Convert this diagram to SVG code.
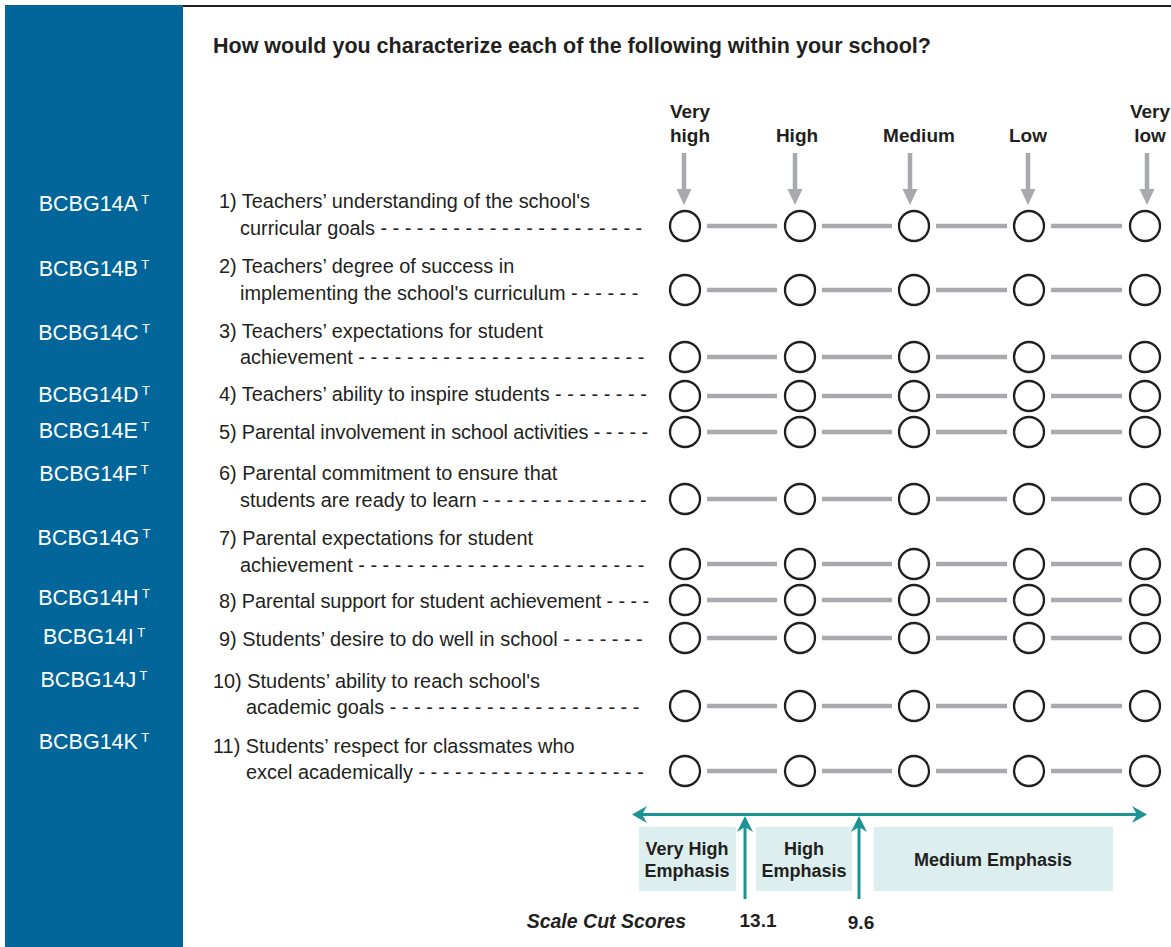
<svg xmlns="http://www.w3.org/2000/svg" width="1171" height="947" viewBox="0 0 1171 947">
<defs>
<style>
.it{font-family:"Liberation Sans",Arial,sans-serif;font-size:19.9px;fill:#231f20}
.code{font-family:"Liberation Sans",Arial,sans-serif;font-size:21.5px;fill:#ffffff}
.sup{font-size:13px}
.hd{font-family:"Liberation Sans",Arial,sans-serif;font-size:19px;font-weight:bold;fill:#231f20;text-anchor:middle}
.bx{font-family:"Liberation Sans",Arial,sans-serif;font-size:18px;font-weight:bold;fill:#231f20;text-anchor:middle}
.c{fill:#ffffff;stroke:#231f20;stroke-width:2.3}
.g{stroke:#a7a9ac;stroke-width:4.5}
.teal{stroke:#1c9393;stroke-width:3;fill:none}
.box{fill:#dceeee}
</style>
<g id="rowc">
<circle class="c" cx="685" cy="0" r="15"/>
<line class="g" x1="707" y1="0" x2="777" y2="0"/>
<circle class="c" cx="800" cy="0" r="15"/>
<line class="g" x1="822" y1="0" x2="892" y2="0"/>
<circle class="c" cx="914" cy="0" r="15"/>
<line class="g" x1="936" y1="0" x2="1007" y2="0"/>
<circle class="c" cx="1029" cy="0" r="15"/>
<line class="g" x1="1051" y1="0" x2="1122" y2="0"/>
<circle class="c" cx="1145" cy="0" r="15"/>
</g>
<g id="garrow">
<rect x="-2.25" y="153" width="4.5" height="38" fill="#a7a9ac"/>
<path d="M-7.5,189 L7.5,189 L0,205 Z" fill="#a7a9ac"/>
</g>
</defs>
<rect x="0" y="0" width="1171" height="947" fill="#ffffff"/>
<rect id="panel" x="5" y="5" width="178" height="942" fill="#02669a"/>
<line x1="183" y1="6" x2="1171" y2="6" stroke="#231f20" stroke-width="2"/>
<text id="title" x="213" y="53" style="font-family:'Liberation Sans',Arial,sans-serif;font-size:21.5px;font-weight:bold;fill:#231f20">How would you characterize each of the following within your school?</text>

<g id="header">
<text class="hd" x="690" y="118">Very</text>
<text class="hd" x="690" y="142">high</text>
<text class="hd" x="797" y="142">High</text>
<text class="hd" x="919" y="142">Medium</text>
<text class="hd" x="1028" y="142">Low</text>
<text class="hd" x="1150" y="118">Very</text>
<text class="hd" x="1150" y="142">low</text>
<use href="#garrow" x="684"/>
<use href="#garrow" x="795"/>
<use href="#garrow" x="910"/>
<use href="#garrow" x="1028"/>
<use href="#garrow" x="1147"/>
</g>

<g id="codes" text-anchor="middle">
<text class="code" x="94" y="211">BCBG14A<tspan class="sup" dy="-7">  T</tspan></text>
<text class="code" x="94" y="276">BCBG14B<tspan class="sup" dy="-7">  T</tspan></text>
<text class="code" x="94" y="340">BCBG14C<tspan class="sup" dy="-7">  T</tspan></text>
<text class="code" x="94" y="402">BCBG14D<tspan class="sup" dy="-7">  T</tspan></text>
<text class="code" x="94" y="438">BCBG14E<tspan class="sup" dy="-7">  T</tspan></text>
<text class="code" x="94" y="481">BCBG14F<tspan class="sup" dy="-7">  T</tspan></text>
<text class="code" x="94" y="545">BCBG14G<tspan class="sup" dy="-7">  T</tspan></text>
<text class="code" x="94" y="605">BCBG14H<tspan class="sup" dy="-7">  T</tspan></text>
<text class="code" x="94" y="644">BCBG14I<tspan class="sup" dy="-7">  T</tspan></text>
<text class="code" x="94" y="687">BCBG14J<tspan class="sup" dy="-7">  T</tspan></text>
<text class="code" x="94" y="749">BCBG14K<tspan class="sup" dy="-7">  T</tspan></text>
</g>

<g id="item1">
<text class="it" x="219" y="208">1) Teachers’ understanding of the school's</text>
<text class="it" x="240" y="235">curricular goals - - - - - - - - - - - - - - - - - - - - - -</text>
<use href="#rowc" y="226"/>
</g>
<g id="item2">
<text class="it" x="219" y="273">2) Teachers’ degree of success in</text>
<text class="it" x="240" y="300">implementing the school's curriculum - - - - - -</text>
<use href="#rowc" y="290"/>
</g>
<g id="item3">
<text class="it" x="219" y="338">3) Teachers’ expectations for student</text>
<text class="it" x="240" y="364">achievement - - - - - - - - - - - - - - - - - - - - - - - -</text>
<use href="#rowc" y="357"/>
</g>
<g id="item4">
<text class="it" x="219" y="401">4) Teachers’ ability to inspire students - - - - - - - -</text>
<use href="#rowc" y="396"/>
</g>
<g id="item5">
<text class="it" x="219" y="439" textLength="429" lengthAdjust="spacing">5) Parental involvement in school activities - - - - -</text>
<use href="#rowc" y="432"/>
</g>
<g id="item6">
<text class="it" x="219" y="480">6) Parental commitment to ensure that</text>
<text class="it" x="240" y="507">students are ready to learn - - - - - - - - - - - - - -</text>
<use href="#rowc" y="499"/>
</g>
<g id="item7">
<text class="it" x="219" y="545">7) Parental expectations for student</text>
<text class="it" x="240" y="572">achievement - - - - - - - - - - - - - - - - - - - - - - - -</text>
<use href="#rowc" y="564"/>
</g>
<g id="item8">
<text class="it" x="219" y="608" textLength="430" lengthAdjust="spacing">8) Parental support for student achievement - - - -</text>
<use href="#rowc" y="600"/>
</g>
<g id="item9">
<text class="it" x="219" y="646">9) Students’ desire to do well in school - - - - - - -</text>
<use href="#rowc" y="638"/>
</g>
<g id="item10">
<text class="it" x="213" y="688">10) Students’ ability to reach school's</text>
<text class="it" x="246" y="714">academic goals - - - - - - - - - - - - - - - - - - - - -</text>
<use href="#rowc" y="706"/>
</g>
<g id="item11">
<text class="it" x="213" y="753">11) Students’ respect for classmates who</text>
<text class="it" x="246" y="779">excel academically - - - - - - - - - - - - - - - - - - -</text>
<use href="#rowc" y="771"/>
</g>

<g id="legend">
<rect class="box" x="639" y="827" width="97" height="64"/>
<rect class="box" x="756" y="827" width="96" height="64"/>
<rect class="box" x="874" y="827" width="239" height="64"/>
<text class="bx" x="687" y="855">Very High</text>
<text class="bx" x="687" y="877">Emphasis</text>
<text class="bx" x="804" y="855">High</text>
<text class="bx" x="804" y="877">Emphasis</text>
<text class="bx" x="993" y="866">Medium Emphasis</text>
<text x="686" y="928" text-anchor="end" style="font-family:'Liberation Sans',Arial,sans-serif;font-size:19.5px;font-weight:bold;font-style:italic;fill:#231f20">Scale Cut Scores</text>
<text x="758" y="927" text-anchor="middle" style="font-family:'Liberation Sans',Arial,sans-serif;font-size:19px;font-weight:bold;fill:#231f20">13.1</text>
<text x="861" y="929" text-anchor="middle" style="font-family:'Liberation Sans',Arial,sans-serif;font-size:19px;font-weight:bold;fill:#231f20">9.6</text>
</g>

<g id="connectors">
<line class="teal" x1="638" y1="814.5" x2="1141" y2="814.5"/>
<path d="M632,814.5 L647,806 L642,814.5 L647,823 Z" fill="#1c9393"/>
<path d="M1147,814.5 L1132,806 L1137,814.5 L1132,823 Z" fill="#1c9393"/>
<line class="teal" x1="745" y1="822" x2="745" y2="899"/>
<path d="M745,816 L737,832 L745,827 L753,832 Z" fill="#1c9393"/>
<line class="teal" x1="859" y1="822" x2="859" y2="899"/>
<path d="M859,816 L851,832 L859,827 L867,832 Z" fill="#1c9393"/>
</g>
</svg>
